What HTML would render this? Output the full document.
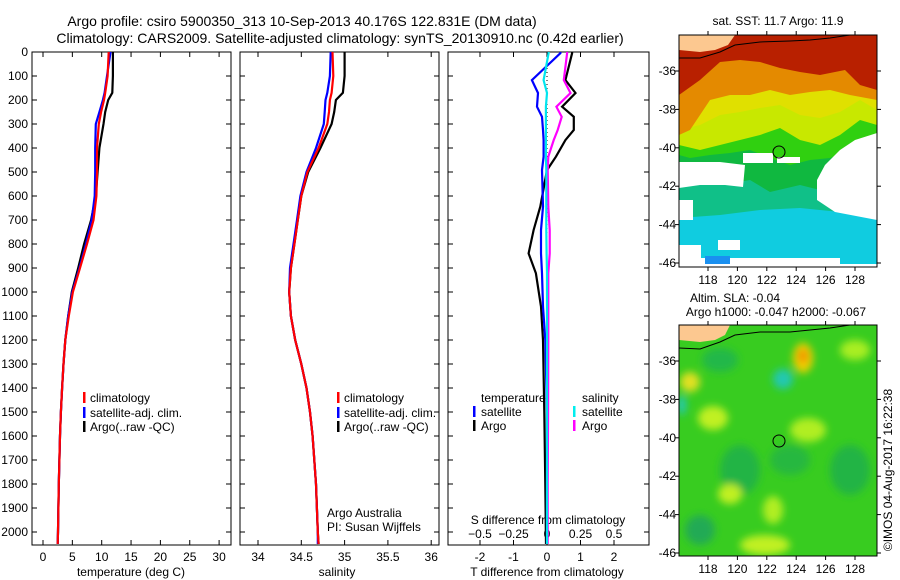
<!DOCTYPE html>
<html><head><meta charset="utf-8"><style>
body{margin:0;background:#fff}
svg{display:block;font-family:"Liberation Sans",sans-serif;font-size:12px}
</style></head><body>
<svg id="c" width="900" height="580" viewBox="0 0 900 580">
<defs>
<filter id="bl" x="-20%" y="-20%" width="140%" height="140%"><feGaussianBlur stdDeviation="4"/></filter>
<clipPath id="cm1"><rect x="679" y="35" width="198" height="232"/></clipPath>
<clipPath id="cm2"><rect x="679" y="325" width="198" height="231"/></clipPath>
</defs>
<text x="302" y="26" text-anchor="middle" font-size="14">Argo profile: csiro 5900350_313 10-Sep-2013 40.176S 122.831E (DM data)</text>
<text x="340" y="43" text-anchor="middle" font-size="14">Climatology: CARS2009. Satellite-adjusted climatology: synTS_20130910.nc (0.42d earlier)</text>

<g clip-path="url(#cm1)">
<rect x="679" y="35" width="198" height="232" fill="#10cce0"/>
<polygon fill="#10c088" points="679,35 877,35 877,215 840,212 800,208 760,210 720,215 679,218"/>
<polygon fill="#10b840" points="679,35 877,35 877,190 850,185 820,190 800,185 770,192 750,180 720,185 700,182 679,180"/>
<polygon fill="#30d010" points="679,35 877,35 877,150 850,150 830,158 810,160 790,165 770,158 750,150 730,153 710,155 690,158 679,155"/>
<polygon fill="#c8e800" points="679,35 877,35 877,125 860,120 840,135 820,145 800,140 780,128 760,135 740,140 720,145 700,150 679,145"/>
<polygon fill="#e0e000" points="679,35 877,35 877,110 860,100 840,112 820,118 800,115 780,105 760,108 740,112 720,115 700,125 679,130"/>
<polygon fill="#e48a00" points="679,35 877,35 877,100 850,95 830,90 810,92 790,95 770,90 750,95 730,95 710,100 700,115 690,130 679,135"/>
<polygon fill="#b82000" points="679,35 877,35 877,90 860,85 845,70 820,75 800,72 780,68 760,62 740,60 720,62 700,80 679,95"/>
<polygon fill="#fff" points="877,133 855,140 840,150 825,165 817,180 817,200 835,212 877,220"/>
<polygon fill="#fff" points="679,162 720,162 745,165 743,187 725,185 700,185 679,188"/>
<polygon fill="#fff" points="743,153 773,153 773,163 743,163"/>
<polygon fill="#fff" points="777,157 800,157 800,163 777,163"/>
<rect x="679" y="200" width="14" height="20" fill="#fff"/>
<rect x="679" y="245" width="22" height="22" fill="#fff"/>
<rect x="718" y="240" width="22" height="10" fill="#fff"/>
<rect x="679" y="258" width="198" height="9" fill="#fff"/>
<rect x="705" y="256" width="25" height="8" fill="#1a90f0"/>
<rect x="840" y="250" width="37" height="14" fill="#10cce0"/>
<polygon fill="#fcc890" points="679,35 735,35 728,45 715,50 700,52 679,50"/>
<polyline fill="none" stroke="#000" points="679,58 700,58 720,52 735,45 760,42 790,41 810,40 830,38 850,35"/>
<circle cx="779" cy="152" r="6" fill="none" stroke="#000"/>
</g>
<rect x="679" y="35" width="198" height="232" fill="none" stroke="#000"/>
<text x="778" y="25" text-anchor="middle">sat. SST: 11.7 Argo: 11.9</text>

<g clip-path="url(#cm2)">
<rect x="679" y="325" width="198" height="231" fill="#38cc20"/>
<g filter="url(#bl)">
<ellipse cx="720" cy="360" rx="18" ry="12" fill="#20b848"/>
<ellipse cx="740" cy="470" rx="20" ry="25" fill="#22b444"/>
<ellipse cx="850" cy="470" rx="20" ry="25" fill="#22b444"/>
<ellipse cx="700" cy="530" rx="15" ry="15" fill="#20aa55"/>
<ellipse cx="790" cy="460" rx="20" ry="15" fill="#28b840"/>
<ellipse cx="713" cy="418" rx="15" ry="12" fill="#c0f020"/>
<ellipse cx="730" cy="494" rx="12" ry="10" fill="#c0f020"/>
<ellipse cx="808" cy="430" rx="18" ry="12" fill="#b0ee20"/>
<ellipse cx="773" cy="510" rx="10" ry="14" fill="#b0ee20"/>
<ellipse cx="765" cy="545" rx="25" ry="10" fill="#c0f020"/>
<ellipse cx="855" cy="350" rx="15" ry="10" fill="#a8ee20"/>
<ellipse cx="690" cy="382" rx="10" ry="10" fill="#e0e020"/>
<ellipse cx="803" cy="358" rx="10" ry="15" fill="#f0d000"/>
<ellipse cx="803" cy="356" rx="5" ry="7" fill="#f09000"/>
<ellipse cx="783" cy="379" rx="10" ry="10" fill="#20c8b0"/>
<ellipse cx="682" cy="405" rx="4" ry="10" fill="#20c8c0"/>
</g>
<polygon fill="#fcc890" points="679,325 730,325 725,335 715,340 700,342 679,340"/>
<polyline fill="none" stroke="#000" points="679,348 700,349 720,342 735,335 760,332 790,332 810,330 830,328 850,325"/>
<circle cx="779" cy="441" r="6" fill="none" stroke="#000"/>
</g>
<rect x="679" y="325" width="198" height="231" fill="none" stroke="#000"/>
<text x="735" y="302" text-anchor="middle">Altim. SLA: -0.04</text>
<text x="776" y="316" text-anchor="middle">Argo h1000: -0.047 h2000: -0.067</text>
<text transform="translate(892,470) rotate(-90)" text-anchor="middle">©IMOS 04-Aug-2017 16:22:38</text>

<g id="plots"></g>
</svg>
<script>
const depths = [0,100,170,200,250,300,400,500,600,700,800,900,1000,1100,1200,1300,1400,1500,1600,1800,2000,2050];
const tempArgo = [11.9,11.9,11.8,11.1,10.6,10.3,9.6,9.3,9.0,8.2,7.0,6.0,4.9,4.3,3.8,3.5,3.25,3.05,2.9,2.7,2.55,2.5];
const tempClim = [11.2,11.0,10.6,10.4,9.9,9.5,9.2,9.2,9.1,8.6,7.5,6.3,5.1,4.4,3.8,3.5,3.25,3.05,2.9,2.7,2.55,2.5];
const tempSat = [11.5,10.9,10.5,10.2,9.6,9.0,8.9,8.9,8.8,8.3,7.3,6.2,5.0,4.3,3.8,3.5,3.25,3.05,2.9,2.7,2.55,2.5];
const salArgo = [35.0,35.0,34.98,34.9,34.88,34.85,34.72,34.58,34.5,34.46,34.42,34.38,34.36,34.38,34.43,34.5,34.56,34.6,34.63,34.67,34.69,34.7];
const salClim = [34.86,34.87,34.85,34.83,34.82,34.8,34.7,34.57,34.5,34.46,34.42,34.38,34.36,34.38,34.43,34.5,34.56,34.6,34.63,34.67,34.69,34.7];
const salSat = [34.84,34.83,34.8,34.78,34.77,34.76,34.67,34.56,34.49,34.45,34.41,34.37,34.36,34.38,34.43,34.5,34.56,34.6,34.63,34.67,34.69,34.69];
const diffDepths = [0,5,117,171,228,270,325,367,436,492,644,742,839,922,1061,1200,1500,1800,2050];
const dTArgo = [0.75,0.75,0.55,0.85,0.45,0.8,0.8,0.55,0.27,0,-0.2,-0.4,-0.55,-0.33,-0.18,-0.12,-0.08,-0.05,-0.03];
const dTSat = [0.4,0.4,-0.45,-0.27,-0.3,-0.15,-0.12,-0.1,-0.1,-0.15,-0.12,-0.18,-0.18,-0.15,-0.12,-0.05,0,0,0];
const dSArgo = [0.15,0.15,0.125,0.175,0.07,0.11,0.08,0.05,0.01,0.005,0.01,0.02,0.02,0.01,0.01,0.01,0.008,0.005,0.005];
const dSSat = [0.012,0.012,-0.025,0,-0.008,-0.008,-0.008,-0.008,-0.008,-0.005,-0.005,-0.005,-0.003,0,0,0,0,0,0];
const depthTicks = [0,100,200,300,400,500,600,700,800,900,1000,1100,1200,1300,1400,1500,1600,1700,1800,1900,2000];
const tempTicks = [0,5,10,15,20,25,30];
const salTicks = [34,34.5,35,35.5,36];
const dTTicks = [-2,-1,0,1,2];
const dSTicks = [-0.5,-0.25,0,0.25,0.5];
const lonTicks = [118,120,122,124,126,128];
const latTicks = [-36,-38,-40,-42,-44,-46];

const NS='http://www.w3.org/2000/svg';
const G=document.getElementById('plots');
function mk(tag,at,parent){const e=document.createElementNS(NS,tag);for(const k in at)e.setAttribute(k,at[k]);(parent||G).appendChild(e);return e;}
const yD = d => 52 + d*0.24;
const xT = v => 43 + v*5.87;
const xS = v => 258 + (v-34)*86.6;
const xDT = v => 547 + v*33.5;
const xDS = v => 547 + v*134;
const P1={x:32,w:199}, P2={x:240,w:199}, P3={x:448,w:201}, TOP=52, BOT=545;

function frame(p,name){
  const r=mk('rect',{x:p.x,y:TOP,width:p.w,height:BOT-TOP,fill:'none',stroke:'#000'});
  
  
  depthTicks.forEach(d=>{
    mk('line',{x1:p.x,x2:p.x+5,y1:yD(d),y2:yD(d),stroke:'#000'});
    mk('line',{x1:p.x+p.w,x2:p.x+p.w-5,y1:yD(d),y2:yD(d),stroke:'#000'});
  });
}
function xaxis(p,ticks,sc,ylab,fmt){
  ticks.forEach(v=>{
    const x=sc(v);
    mk('line',{x1:x,x2:x,y1:BOT,y2:BOT-5,stroke:'#000'});
    mk('line',{x1:x,x2:x,y1:TOP,y2:TOP+5,stroke:'#000'});
    const t=mk('text',{x:x,y:ylab,'text-anchor':'middle'});t.textContent=fmt?fmt(v):String(v);
    
    
  });
}
function line(xs,ds,sc,color,name){
  const pts=xs.map((v,i)=>sc(v).toFixed(1)+','+yD(ds[i]).toFixed(1)).join(' ');
  const l=mk('polyline',{points:pts,fill:'none',stroke:color,'stroke-width':2.2});
  
  
}
function label(x,y,s,name,anchor){
  const t=mk('text',{x:x,y:y,'text-anchor':anchor||'start'});t.textContent=s;
  
  
  return t;
}
function legBar(x,y,color){mk('rect',{x:x,y:y-10,width:2.5,height:11,fill:color});}

frame(P1,'temperature-panel');
depthTicks.forEach(d=>{label(28,yD(d)+4,String(d),'depth-tick-label','end');});
xaxis(P1,tempTicks,xT,561);
label(131,576,'temperature (deg C)','temperature-axis-title','middle');
line(tempArgo,depths,xT,'#000','argo-temperature-line');
line(tempSat,depths,xT,'#0000ff','satellite-temperature-line');
line(tempClim,depths,xT,'#ff0000','clim-temperature-line');
[['climatology','#f00',402],['satellite-adj. clim.','#00f',417],['Argo(..raw -QC)','#000',431]].forEach(a=>{legBar(83,a[2],a[1]);label(90,a[2],a[0],'temperature-legend-entry');});

frame(P2,'salinity-panel');
xaxis(P2,salTicks,xS,561);
label(337,576,'salinity','salinity-axis-title','middle');
line(salArgo,depths,xS,'#000','argo-salinity-line');
line(salSat,depths,xS,'#0000ff','satellite-salinity-line');
line(salClim,depths,xS,'#ff0000','clim-salinity-line');
[['climatology','#f00',402],['satellite-adj. clim.','#00f',417],['Argo(..raw -QC)','#000',431]].forEach(a=>{legBar(337,a[2],a[1]);label(344,a[2],a[0],'salinity-legend-entry');});
label(327,517,'Argo Australia','credit-line-1');
label(327,531,'PI: Susan Wijffels','credit-line-2');

frame(P3,'difference-panel');
mk('line',{x1:547,x2:547,y1:TOP,y2:BOT,stroke:'#000','stroke-dasharray':'1,3'});
xaxis(P3,dTTicks,xDT,561);
dSTicks.forEach(v=>{label(xDS(v),538,String(v).replace('-','\u2212'),'s-tick-label','middle');});
label(548,524,'S difference from climatology','s-diff-axis-title','middle');
label(547,576,'T difference from climatology','t-diff-axis-title','middle');
line(dTArgo,diffDepths,xDT,'#000','t-argo-diff-line');
line(dTSat,diffDepths,xDT,'#0000ff','t-satellite-diff-line');
line(dSArgo,diffDepths,xDS,'#ff00ff','s-argo-diff-line');
line(dSSat,diffDepths,xDS,'#00e5ee','s-satellite-diff-line');
label(481,402,'temperature','diff-legend-temperature');
label(582,402,'salinity','diff-legend-salinity');
legBar(473,416,'#00f');label(481,416,'satellite','diff-legend-t-satellite');
legBar(473,430,'#000');label(481,430,'Argo','diff-legend-t-argo');
legBar(573,416,'#0ee');label(582,416,'satellite','diff-legend-s-satellite');
legBar(573,430,'#f0f');label(582,430,'Argo','diff-legend-s-argo');

const xLon = v => 708 + (v-118)*14.7;
function mapAxes(top,bot,lat36,lab){
  lonTicks.forEach(v=>{
    mk('line',{x1:xLon(v),x2:xLon(v),y1:bot,y2:bot+4,stroke:'#000'});
    mk('line',{x1:xLon(v),x2:xLon(v),y1:top,y2:top-4,stroke:'#000'});
    label(xLon(v),lab,String(v),'lon-tick-label','middle');
  });
  latTicks.forEach(v=>{
    const y=lat36+(-36-v)*19.2;
    mk('line',{x1:679,x2:675,y1:y,y2:y,stroke:'#000'});
    mk('line',{x1:877,x2:881,y1:y,y2:y,stroke:'#000'});
    label(676,y+4,String(v),'lat-tick-label','end');
  });
}
mapAxes(35,267,71,284);
mapAxes(325,556,361,573);
</script>
</body></html>
